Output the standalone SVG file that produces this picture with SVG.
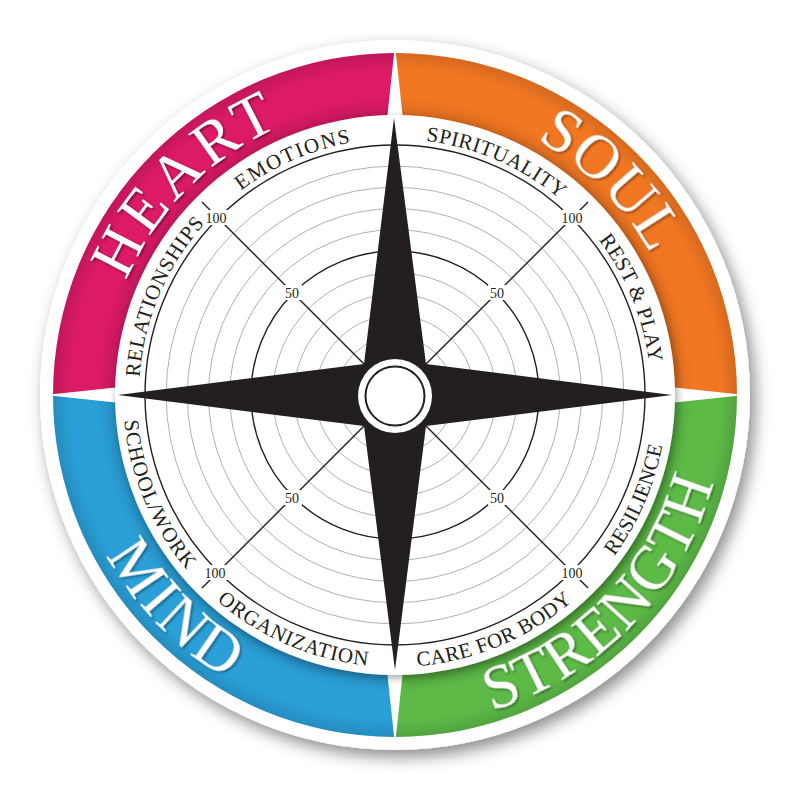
<svg xmlns="http://www.w3.org/2000/svg" width="800" height="799" viewBox="0 0 800 799">
<style>
.lbl{font-family:"Liberation Serif","Times New Roman",serif;font-size:21px;fill:#231f20;}
.big{font-family:"Liberation Serif","Times New Roman",serif;font-size:62px;fill:#ffffff;}
.num{font-family:"Liberation Serif","Times New Roman",serif;font-size:14px;fill:#231f20;text-anchor:middle;}
.gray{fill:none;stroke:#b0b0b0;stroke-width:1;}
.dark{fill:none;stroke:#231f20;stroke-width:1.4;}
.ln{stroke:#231f20;stroke-width:1.4;}
</style>
<defs>
<filter id="sh" x="-20%" y="-20%" width="140%" height="140%">
<feDropShadow dx="5" dy="7" stdDeviation="8" flood-color="#000" flood-opacity="0.45"/>
</filter>
<filter id="ish" x="-20%" y="-20%" width="140%" height="140%">
<feDropShadow dx="2" dy="3" stdDeviation="4" flood-color="#000" flood-opacity="0.35"/>
</filter>
<filter id="tsh" x="-10%" y="-10%" width="120%" height="120%">
<feDropShadow dx="1.5" dy="1.5" stdDeviation="1.2" flood-color="#000" flood-opacity="0.45"/>
</filter>
<radialGradient id="ringShade" gradientUnits="userSpaceOnUse" cx="395" cy="395" r="342">
<stop offset="0.8" stop-color="#000" stop-opacity="0.15"/>
<stop offset="0.87" stop-color="#000" stop-opacity="0"/>
<stop offset="0.95" stop-color="#000" stop-opacity="0"/>
<stop offset="1" stop-color="#000" stop-opacity="0.12"/>
</radialGradient>
<polygon id="wedge" points="395,45 386.4,125 403.6,125" fill="#ffffff"/>
<path id="cw256" d="M651,395 A256,256 0 1 1 139,395 A256,256 0 1 1 651,395"/>
<path id="ccw272" d="M667,395 A272,272 0 1 0 123,395 A272,272 0 1 0 667,395"/>
<path id="cw292" d="M687,395 A292,292 0 1 1 103,395 A292,292 0 1 1 687,395"/>
<path id="ccw330" d="M725,395 A330,330 0 1 0 65,395 A330,330 0 1 0 725,395"/>
</defs>

<g id="base">
<circle cx="395" cy="395" r="355" fill="#ffffff" filter="url(#sh)"/>
</g>

<g id="ring">
<path id="heart-q" d="M395,395 L53,395 A342,342 0 0 1 395,53 Z" fill="#dc1a66"/>
<path id="soul-q" d="M395,395 L395,53 A342,342 0 0 1 737,395 Z" fill="#f27722"/>
<path id="strength-q" d="M395,395 L737,395 A342,342 0 0 1 395,737 Z" fill="#5dba47"/>
<path id="mind-q" d="M395,395 L395,737 A342,342 0 0 1 53,395 Z" fill="#2a9fd8"/>
<circle cx="395" cy="395" r="342" fill="url(#ringShade)"/>
<use href="#wedge"/>
<use href="#wedge" transform="rotate(90 395 395)"/>
<use href="#wedge" transform="rotate(180 395 395)"/>
<use href="#wedge" transform="rotate(270 395 395)"/>
</g>

<g id="dial">
<circle cx="395" cy="395" r="280" fill="#ffffff" filter="url(#ish)"/>
<g id="grid">
<circle class="gray" cx="395" cy="395" r="58.3"/>
<circle class="gray" cx="395" cy="395" r="79.6"/>
<circle class="gray" cx="395" cy="395" r="100.9"/>
<circle class="gray" cx="395" cy="395" r="122.2"/>
<circle class="gray" cx="395" cy="395" r="165.3"/>
<circle class="gray" cx="395" cy="395" r="186.5"/>
<circle class="gray" cx="395" cy="395" r="207.7"/>
<circle class="gray" cx="395" cy="395" r="228.9"/>
<circle class="dark" cx="395" cy="395" r="144"/>
<circle class="dark" cx="395" cy="395" r="250"/>
</g>
<g id="connectors">
<line class="ln" x1="364" y1="364" x2="218" y2="218"/>
<line class="ln" x1="426" y1="364" x2="572" y2="218"/>
<line class="ln" x1="426" y1="426" x2="572" y2="572"/>
<line class="ln" x1="364" y1="426" x2="218" y2="572"/>
<line class="ln" x1="210.5" y1="210.5" x2="202" y2="202"/>
<line class="ln" x1="579.5" y1="210.5" x2="588" y2="202"/>
<line class="ln" x1="579.5" y1="579.5" x2="588" y2="588"/>
<line class="ln" x1="210.5" y1="579.5" x2="202" y2="588"/>
</g>
<g id="star">
<polygon points="394,118 426,364 672,395 426,426 395,670 364,426 118,395 364,364" fill="#231f20"/>
<circle cx="395" cy="396" r="37" fill="#ffffff"/>
<circle cx="395" cy="396" r="29.5" fill="#ffffff" stroke="#231f20" stroke-width="2"/>
</g>
<g id="scale">
<rect x="204" y="210" width="28" height="15" fill="#ffffff"/>
<text class="num" x="216" y="223">100</text>
<rect x="558" y="210" width="28" height="15" fill="#ffffff"/>
<text class="num" x="572" y="223">100</text>
<rect x="558" y="565" width="28" height="15" fill="#ffffff"/>
<text class="num" x="572" y="578">100</text>
<rect x="201" y="565" width="28" height="15" fill="#ffffff"/>
<text class="num" x="215" y="578">100</text>
<rect x="283" y="285" width="19" height="15" fill="#ffffff"/>
<text class="num" x="292" y="298">50</text>
<rect x="488" y="285" width="19" height="15" fill="#ffffff"/>
<text class="num" x="497" y="298">50</text>
<rect x="488" y="490" width="19" height="15" fill="#ffffff"/>
<text class="num" x="497" y="503">50</text>
<rect x="283" y="490" width="19" height="15" fill="#ffffff"/>
<text class="num" x="292" y="503">50</text>
</g>
</g>

<g id="labels">
<text class="lbl" transform="rotate(-176 395 395)" textLength="169.8" lengthAdjust="spacing"><textPath href="#cw256">RELATIONSHIPS</textPath></text>
<text class="lbl" transform="rotate(-127 395 395)" textLength="120.6" lengthAdjust="spacing"><textPath href="#cw256">EMOTIONS</textPath></text>
<text class="lbl" transform="rotate(-83 395 395)" textLength="147.4" lengthAdjust="spacing"><textPath href="#cw256">SPIRITUALITY</textPath></text>
<text class="lbl" transform="rotate(-37.3 395 395)" textLength="134" lengthAdjust="spacing"><textPath href="#cw256">REST &amp; PLAY</textPath></text>
<text class="lbl" transform="rotate(36.3 395 395)" textLength="121.5" lengthAdjust="spacing"><textPath href="#ccw272">RESILIENCE</textPath></text>
<text class="lbl" transform="rotate(85.3 395 395)" textLength="170.9" lengthAdjust="spacing"><textPath href="#ccw272">CARE FOR BODY</textPath></text>
<text class="lbl" transform="rotate(130.9 395 395)" textLength="166.6" lengthAdjust="spacing"><textPath href="#ccw272">ORGANIZATION</textPath></text>
<text class="lbl" transform="rotate(174.6 395 395)" textLength="164.2" lengthAdjust="spacing"><textPath href="#ccw272">SCHOOL/WORK</textPath></text>
</g>

<g id="quadrant-names" filter="url(#tsh)">
<text id="heart" class="big" transform="rotate(-157 395 395)" textLength="222" lengthAdjust="spacing"><textPath href="#cw292">HEART</textPath></text>
<text id="soul" class="big" transform="rotate(-61 395 395)" textLength="164" lengthAdjust="spacing"><textPath href="#cw292">SOUL</textPath></text>
<text id="strength" class="big" transform="rotate(73 395 395)" textLength="332" lengthAdjust="spacing"><textPath href="#ccw330">STRENGTH</textPath></text>
<text id="mind" class="big" transform="rotate(151 395 395)" textLength="174" lengthAdjust="spacing"><textPath href="#ccw330">MIND</textPath></text>
</g>
</svg>
